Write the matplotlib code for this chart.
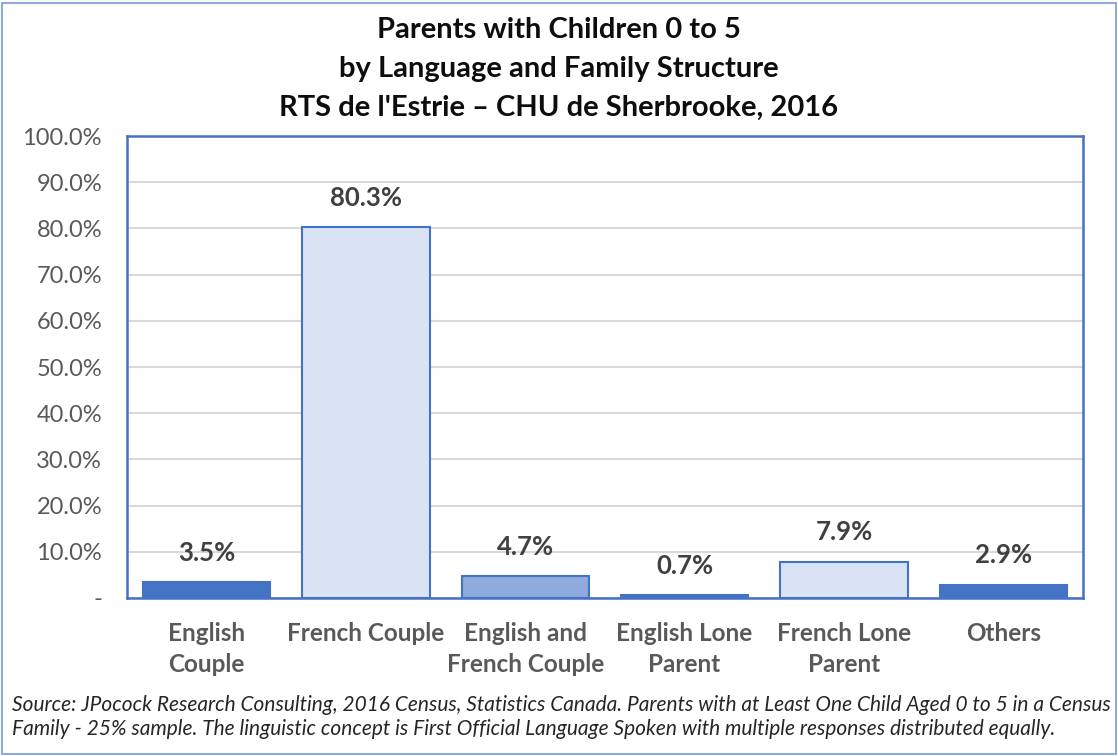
# Import libraries
import matplotlib.pyplot as plt
from matplotlib.patches import Rectangle
from matplotlib.ticker import FuncFormatter

# Data
categories = ["English\nCouple", "French Couple", "English and\nFrench Couple",
              "English Lone\nParent", "French Lone\nParent", "Others"]
shares = [3.5, 80.3, 4.7, 0.7, 7.9, 2.9]
bar_colors = ["#4472C4", "#DAE3F3", "#8FAADC", "#4472C4", "#DAE3F3", "#4472C4"]

title_lines = ["Parents with Children 0 to 5",
               "by Language and Family Structure",
               "RTS de l'Estrie \u2013 CHU de Sherbrooke, 2016"]
source_lines = ["Source: JPocock Research Consulting, 2016 Census, Statistics Canada. "
                "Parents with at Least One Child Aged 0 to 5 in a Census",
                "Family - 25% sample. The linguistic concept is First Official Language "
                "Spoken with multiple responses distributed equally."]

plt.rcParams["font.family"] = ["Lato", "DejaVu Sans"]

fig = plt.figure(figsize=(11.18, 7.56), dpi=100)
fig.patch.set_facecolor("white")

# Outer frame around the whole chart
fig.patches.append(Rectangle((0.002, 0.002), 0.996, 0.994, transform=fig.transFigure,
                             fill=False, edgecolor="#8FAADC", linewidth=1.5))

ax = fig.add_axes([0.1136, 0.209, 0.855, 0.611])
x = range(len(categories))
ax.bar(x, shares, width=0.8, color=bar_colors, edgecolor="#4472C4",
       linewidth=1.5, zorder=3)

# Value labels above bars
for xi, v in zip(x, shares):
    ax.annotate(f"{v:.1f}%", (xi, v), xytext=(0, 21), textcoords="offset points",
                ha="center", va="center", fontsize=18.5, fontweight="bold",
                color="#404040", zorder=4)

ax.set_xlim(-0.5, len(categories) - 0.5)
ax.set_ylim(0, 100)
ax.set_yticks(range(0, 101, 10))
ax.yaxis.set_major_formatter(FuncFormatter(lambda v, p: "-" if v == 0 else f"{v:.1f}%"))
ax.grid(axis="y", color="#D9D9D9", linewidth=1.5, zorder=0)
ax.set_xticks(list(x))
ax.set_xticklabels(categories, fontsize=17.5, fontweight="bold", color="#595959",
                   linespacing=1.45, va="top")
ax.tick_params(axis="x", length=0, pad=17)
ax.tick_params(axis="y", length=0, pad=18, labelsize=17, labelcolor="#595959")
for s in ax.spines.values():
    s.set_color("#4472C4")
    s.set_linewidth(1.8)

# Title
for i, line in enumerate(title_lines):
    fig.text(0.5, 1 - (30 + 39 * i) / 756, line, ha="center", va="center",
             fontsize=21, fontweight="bold", color="#0D0D0D")

# Source note
for i, line in enumerate(source_lines):
    fig.text(12 / 1118, 1 - (705 + 24 * i) / 756, line, ha="left", va="center",
             fontsize=15, style="italic", color="#262626")

plt.savefig("out.png", dpi=100)
